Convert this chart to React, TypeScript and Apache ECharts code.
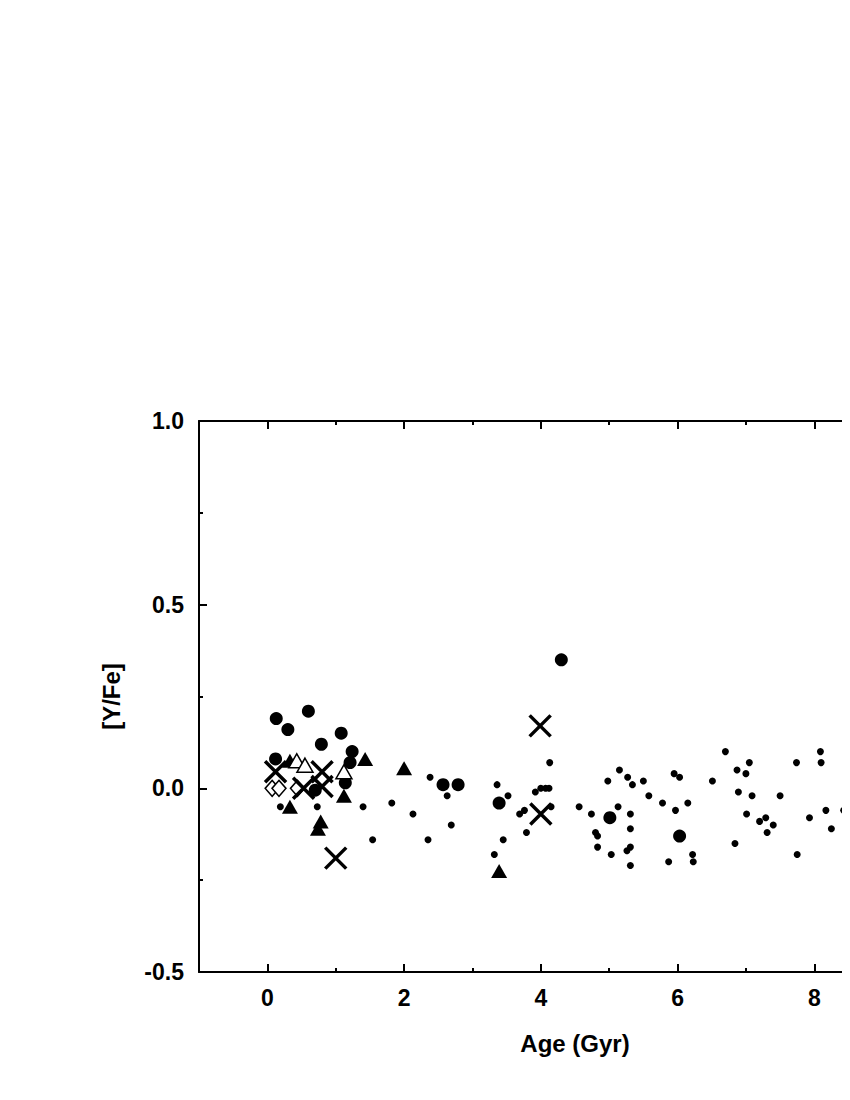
import React, { useEffect, useRef } from "react";
import * as echarts from "echarts";

const xMajorTicks = [0, 2, 4, 6, 8, 10];
const xMajorLabels = [0, 2, 4, 6, 8];
const xMinorTicks = [1, 3, 5, 7, 9];

const smallDots: [number, number][] = [
  [0.19, -0.05], [0.73, -0.05], [1.40, -0.05], [1.82, -0.04], [2.13, -0.07], [1.54, -0.14],
  [2.38, 0.03], [2.63, -0.02], [2.69, -0.10], [2.35, -0.14], [3.36, 0.01], [3.52, -0.02],
  [3.45, -0.14], [3.32, -0.18], [4.13, 0.07], [3.92, -0.01], [4.00, 0.0], [4.07, 0.0],
  [4.12, 0.0], [4.15, -0.05], [3.69, -0.07], [3.76, -0.06], [3.79, -0.12], [4.56, -0.05],
  [4.74, -0.07], [4.98, 0.02], [5.15, 0.05], [5.27, 0.03], [5.34, 0.01], [5.50, 0.02],
  [5.58, -0.02], [5.13, -0.05], [5.31, -0.07], [4.80, -0.12], [4.83, -0.13], [4.83, -0.16],
  [5.03, -0.18], [5.31, -0.11], [5.31, -0.16], [5.26, -0.17], [5.31, -0.21], [5.78, -0.04],
  [5.95, 0.04], [6.03, 0.03], [5.97, -0.06], [6.15, -0.04], [6.22, -0.18], [6.23, -0.20],
  [5.87, -0.20], [6.51, 0.02], [6.70, 0.10], [6.87, 0.05], [7.05, 0.07], [7.00, 0.04],
  [6.89, -0.01], [7.09, -0.02], [7.01, -0.07], [6.84, -0.15], [7.20, -0.09], [7.29, -0.08],
  [7.40, -0.10], [7.31, -0.12], [7.50, -0.02], [7.74, 0.07], [7.75, -0.18], [7.93, -0.08],
  [8.09, 0.10], [8.10, 0.07], [8.17, -0.06], [8.25, -0.11], [8.43, -0.06],
];

const bigCircles: [number, number][] = [
  [0.13, 0.19], [0.30, 0.16], [0.60, 0.21], [1.08, 0.15], [0.79, 0.12], [1.24, 0.10],
  [1.21, 0.07], [0.12, 0.08], [1.14, 0.015], [0.70, -0.005], [2.57, 0.01], [2.79, 0.01],
  [3.39, -0.04], [4.30, 0.35], [5.01, -0.08], [6.03, -0.13],
];

const filledTriangles: [number, number][] = [
  [0.33, 0.075], [1.43, 0.08], [2.0, 0.055], [1.12, -0.02], [0.33, -0.05],
  [0.78, -0.09], [0.74, -0.11], [3.39, -0.225],
];

const openTriangles: [number, number][] = [
  [0.43, 0.075], [0.55, 0.063], [1.12, 0.045],
];

const openDiamonds: [number, number][] = [
  [0.07, 0.0], [0.17, 0.0], [0.44, 0.0],
];

const crosses: [number, number][] = [
  [0.12, 0.045], [0.53, 0.0], [0.80, 0.045], [0.80, 0.005], [1.0, -0.19],
  [3.99, 0.17], [4.0, -0.07],
];

const FONT = "'Liberation Sans', Arial, sans-serif";
const X_MIN = -1;
const X_MAX = 10;
const Y_MIN = -0.5;
const Y_MAX = 1.0;

export default function App() {
  const ref = useRef<HTMLDivElement>(null);

  useEffect(() => {
    if (!ref.current) return;
    const chart = echarts.init(ref.current, undefined, { renderer: "svg" });

    const lineStyle = { color: "#000", width: 2 };
    const baseX = {
      type: "value",
      min: X_MIN,
      max: X_MAX,
      splitLine: { show: false },
    };

    chart.setOption({
      animation: false,
      backgroundColor: "#fff",
      grid: { left: 191, top: 413, width: 752, height: 551, outerBoundsMode: "none" },
      xAxis: [
        {
          ...baseX,
          position: "bottom",
          name: "Age (Gyr)",
          nameLocation: "middle",
          nameGap: 59,
          nameTextStyle: { fontFamily: FONT, fontWeight: "bold", fontSize: 24, color: "#000" },
          axisLine: { show: true, onZero: false, lineStyle },
          axisTick: { show: true, inside: true, length: 8, lineStyle, customValues: xMajorTicks },
          axisLabel: {
            show: true,
            customValues: xMajorLabels,
            margin: 14,
            fontFamily: FONT,
            fontWeight: "bold",
            fontSize: 23,
            color: "#000",
          },
        },
        {
          ...baseX,
          position: "bottom",
          axisLine: { show: false, onZero: false },
          axisTick: { show: true, inside: true, length: 4, lineStyle, customValues: xMinorTicks },
          axisLabel: { show: false },
        },
        {
          ...baseX,
          position: "top",
          axisLine: { show: true, onZero: false, lineStyle },
          axisTick: { show: true, inside: true, length: 8, lineStyle, customValues: xMajorTicks },
          axisLabel: { show: false },
        },
        {
          ...baseX,
          position: "top",
          axisLine: { show: false, onZero: false },
          axisTick: { show: true, inside: true, length: 4, lineStyle, customValues: xMinorTicks },
          axisLabel: { show: false },
        },
      ],
      yAxis: [
        {
          type: "value",
          position: "left",
          min: Y_MIN,
          max: Y_MAX,
          interval: 0.5,
          name: "[Y/Fe]",
          nameLocation: "middle",
          nameGap: 76,
          nameTextStyle: { fontFamily: FONT, fontWeight: "bold", fontSize: 24, color: "#000" },
          splitLine: { show: false },
          axisLine: { show: true, onZero: false, lineStyle },
          axisTick: { show: true, inside: true, length: 8, lineStyle },
          minorTick: { show: true, splitNumber: 2, length: 4, lineStyle },
          minorSplitLine: { show: false },
          axisLabel: {
            margin: 15,
            fontFamily: FONT,
            fontWeight: "bold",
            fontSize: 23,
            color: "#000",
            formatter: (v: number) => v.toFixed(1),
          },
        },
        {
          type: "value",
          position: "right",
          min: Y_MIN,
          max: Y_MAX,
          interval: 0.5,
          splitLine: { show: false },
          axisLine: { show: true, onZero: false, lineStyle },
          axisTick: { show: true, inside: true, length: 8, lineStyle },
          minorTick: { show: true, splitNumber: 2, length: 4, lineStyle },
          axisLabel: { show: false },
        },
      ],
      series: [
        {
          type: "scatter",
          data: smallDots,
          symbol: "circle",
          symbolSize: 7,
          itemStyle: { color: "#000", opacity: 1 },
        },
        {
          type: "scatter",
          data: bigCircles,
          symbol: "circle",
          symbolSize: 13,
          itemStyle: { color: "#000", opacity: 1 },
        },
        {
          type: "scatter",
          data: filledTriangles,
          symbol: "triangle",
          symbolSize: [16, 14],
          itemStyle: { color: "#000", opacity: 1 },
        },
        {
          type: "scatter",
          data: openTriangles,
          symbol: "triangle",
          symbolSize: [16, 14],
          itemStyle: { color: "#fff", borderColor: "#000", borderWidth: 1.5, opacity: 1 },
        },
        {
          type: "scatter",
          data: openDiamonds,
          symbol: "diamond",
          symbolSize: [14, 16],
          itemStyle: { color: "#fff", borderColor: "#000", borderWidth: 1.5, opacity: 1 },
        },
        {
          type: "scatter",
          data: crosses,
          symbol: "path://M0,0L20,20M20,0L0,20",
          symbolSize: 21,
          itemStyle: { color: "rgba(0,0,0,0)", borderColor: "#000", borderWidth: 3.5, opacity: 1 },
        },
      ],
    });

    return () => chart.dispose();
  }, []);

  return (
    <div style={{ width: 842, height: 1084, overflow: "hidden" }}>
      <div ref={ref} style={{ width: 1000, height: 1084 }} />
    </div>
  );
}
